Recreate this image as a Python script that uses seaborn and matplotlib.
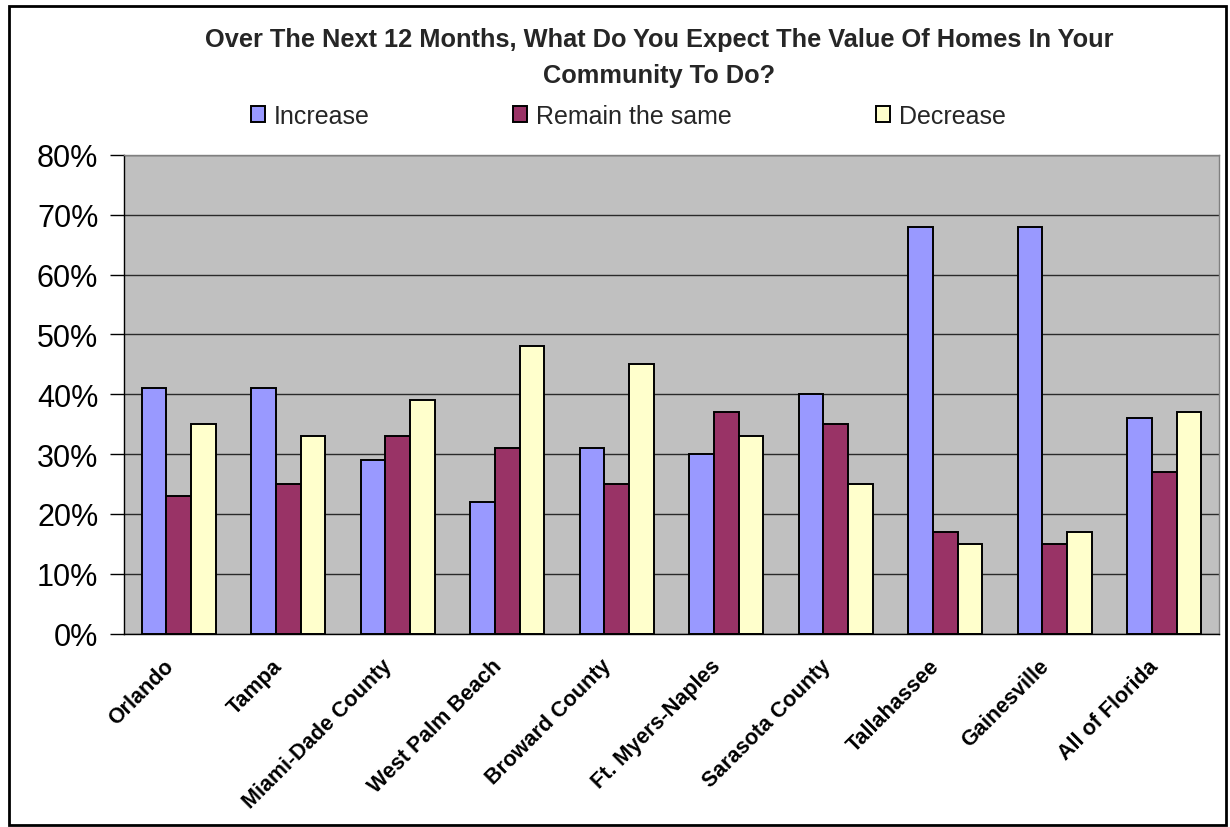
import matplotlib
matplotlib.use("Agg")
import matplotlib.pyplot as plt
import matplotlib.transforms as mtransforms
from matplotlib.patches import Patch, Rectangle
import seaborn as sns
import pandas as pd

# Survey results (% of respondents) by market
regions = ["Orlando", "Tampa", "Miami-Dade County", "West Palm Beach", "Broward County",
           "Ft. Myers-Naples", "Sarasota County", "Tallahassee", "Gainesville", "All of Florida"]
increase = [41, 41, 29, 22, 31, 30, 40, 68, 68, 36]
remain_same = [23, 25, 33, 31, 25, 37, 35, 17, 15, 27]
decrease = [35, 33, 39, 48, 45, 33, 25, 15, 17, 37]
series_names = ["Increase", "Remain the same", "Decrease"]
y_ticks = [0, 10, 20, 30, 40, 50, 60, 70, 80]
y_tick_labels = [f"{v}%" for v in y_ticks]
title_lines = ["Over The Next 12 Months, What Do You Expect The Value Of Homes In Your",
               "Community To Do?"]

colors = {"Increase": "#9999FF", "Remain the same": "#993366", "Decrease": "#FFFFCC"}

sns.set_theme(style="white")
plt.rcParams["font.family"] = ["Liberation Sans", "DejaVu Sans"]

df = pd.DataFrame({
    "region": regions * 3,
    "response": (["Increase"] * len(regions) + ["Remain the same"] * len(regions)
                 + ["Decrease"] * len(regions)),
    "value": increase + remain_same + decrease,
})

W, H = 1230, 828
fig = plt.figure(figsize=(W / 100, H / 100), dpi=100)
fig.patch.set_facecolor("white")

left, right, top, bottom = 124, 1219, 156, 634.5
ax = fig.add_axes([left / W, 1 - bottom / H, (right - left) / W, (bottom - top) / H])
ax.set_facecolor("#C0C0C0")

sns.barplot(data=df, x="region", y="value", hue="response", hue_order=series_names,
            order=regions, palette=colors, saturation=1, width=0.68, gap=0,
            edgecolor="black", linewidth=1.4, legend=False, ax=ax, errorbar=None)

ax.set_ylim(0, 80)
ax.set_xlim(-0.5, len(regions) - 0.5)
ax.set_yticks(y_ticks)
ax.set_yticklabels(y_tick_labels, fontsize=22, color="black")
ax.yaxis.grid(True, color="#2a2a2a", linewidth=1.0)
ax.xaxis.grid(False)
ax.set_axisbelow(True)

ax.set_xticks(range(len(regions)))
ax.set_xticklabels(regions, rotation=45, ha="right", rotation_mode="anchor",
                   fontsize=15.5, fontweight="bold", color="black")
ax.tick_params(axis="x", which="major", length=0, pad=12)
# nudge the slanted category labels slightly left/down
shift = mtransforms.ScaledTranslation(-16 / 100, -5 / 100, fig.dpi_scale_trans)
for lbl in ax.get_xticklabels():
    lbl.set_transform(lbl.get_transform() + shift)
ax.set_xticks([i - 0.5 for i in range(len(regions) + 1)], minor=True)
ax.tick_params(axis="x", which="minor", length=7, width=1, color="black", direction="out")
ax.tick_params(axis="y", which="major", length=10, width=1, color="black",
               direction="out", pad=8.5, left=True)
ax.set_xlabel("")
ax.set_ylabel("")

for side in ("left", "bottom"):
    ax.spines[side].set_color("black")
    ax.spines[side].set_linewidth(1.0)
for side in ("top", "right"):
    ax.spines[side].set_color("#808080")
    ax.spines[side].set_linewidth(1.0)

fig.text(659 / W, 1 - 40 / H, title_lines[0], ha="center", va="center",
         fontsize=18.3, fontweight="bold")
fig.text(659 / W, 1 - 76 / H, title_lines[1], ha="center", va="center",
         fontsize=18.3, fontweight="bold")

handles = [Patch(facecolor=colors[s], edgecolor="black", linewidth=1.4) for s in series_names]
fig.legend(handles, series_names, ncol=3, loc="center",
           bbox_to_anchor=(628 / W, 1 - 117 / H), frameon=False, fontsize=18,
           handlelength=0.57, handleheight=0.57, handletextpad=0.35, columnspacing=5.75)

fig.add_artist(Rectangle((9 / W, 1 - 826 / H), (1226 - 9) / W, (826 - 7) / H,
                         transform=fig.transFigure, fill=False, edgecolor="black",
                         linewidth=2))

fig.savefig("out.png", dpi=100)
